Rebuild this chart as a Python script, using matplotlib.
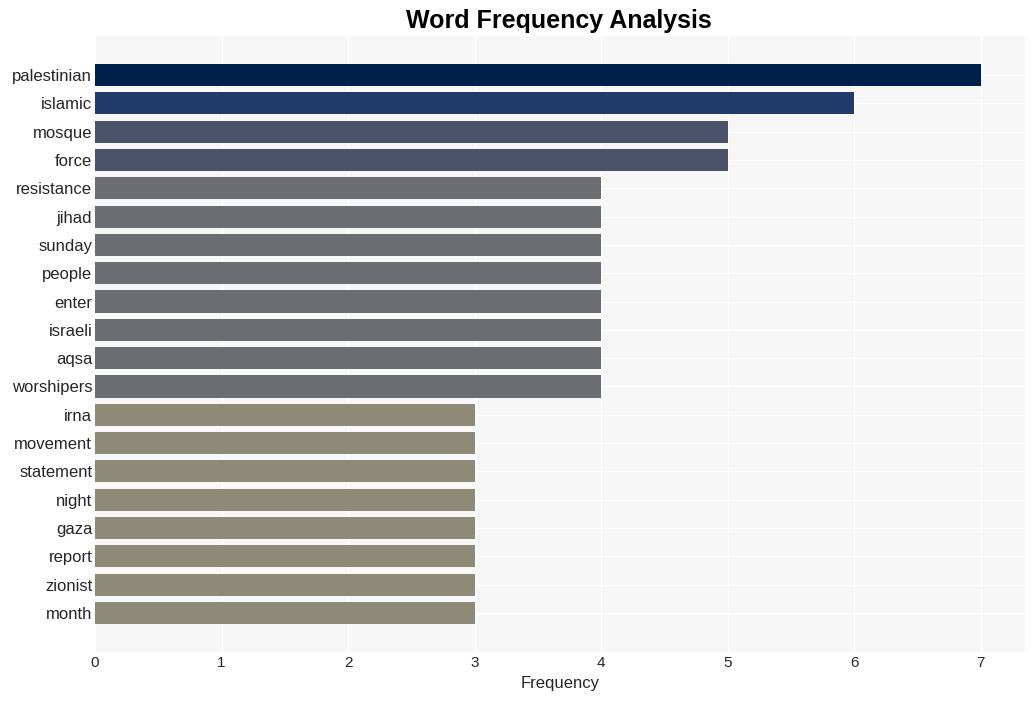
import matplotlib
matplotlib.use("Agg")
import matplotlib.pyplot as plt

words = ["palestinian", "islamic", "mosque", "force", "resistance", "jihad", "sunday",
         "people", "enter", "israeli", "aqsa", "worshipers", "irna", "movement",
         "statement", "night", "gaza", "report", "zionist", "month"]
counts = [7, 6, 5, 5, 4, 4, 4, 4, 4, 4, 4, 4, 3, 3, 3, 3, 3, 3, 3, 3]
color_by_count = {7: "#00204c", 6: "#213b6c", 5: "#4b536b", 4: "#6c6d71", 3: "#8e8a78"}

plt.rcParams['font.family'] = ['Liberation Sans', 'DejaVu Sans']
fig = plt.figure(figsize=(10.35, 7.01), dpi=100)
ax = fig.add_axes([95/1035, 1-652/701, (1025-95)/1035, (652-36)/701])
ax.set_facecolor("#f7f7f7")
ypos = list(range(len(words)))
ax.barh(ypos, counts, height=0.78, color=[color_by_count[c] for c in counts], zorder=2)
ax.set_yticks(ypos)
ax.set_yticklabels(words, fontsize=12, color="#262626")
ax.set_ylim(len(words) - 1 + 1.38, -1.38)
ax.set_xlim(0, 7.35)
ax.set_xticks(range(0, 8))
ax.tick_params(axis='x', labelsize=11, colors="#262626", length=0, pad=3)
ax.tick_params(axis='y', length=0, pad=2)
ax.grid(True, color="white", linewidth=1, zorder=1)
ax.set_axisbelow(True)
for s in ax.spines.values():
    s.set_visible(False)
ax.set_xlabel("Frequency", fontsize=12, color="#262626", labelpad=4)
fig.suptitle("Word Frequency Analysis", fontsize=18, fontweight="bold", y=0.987, x=0.54)
fig.savefig("out.png", dpi=100)
